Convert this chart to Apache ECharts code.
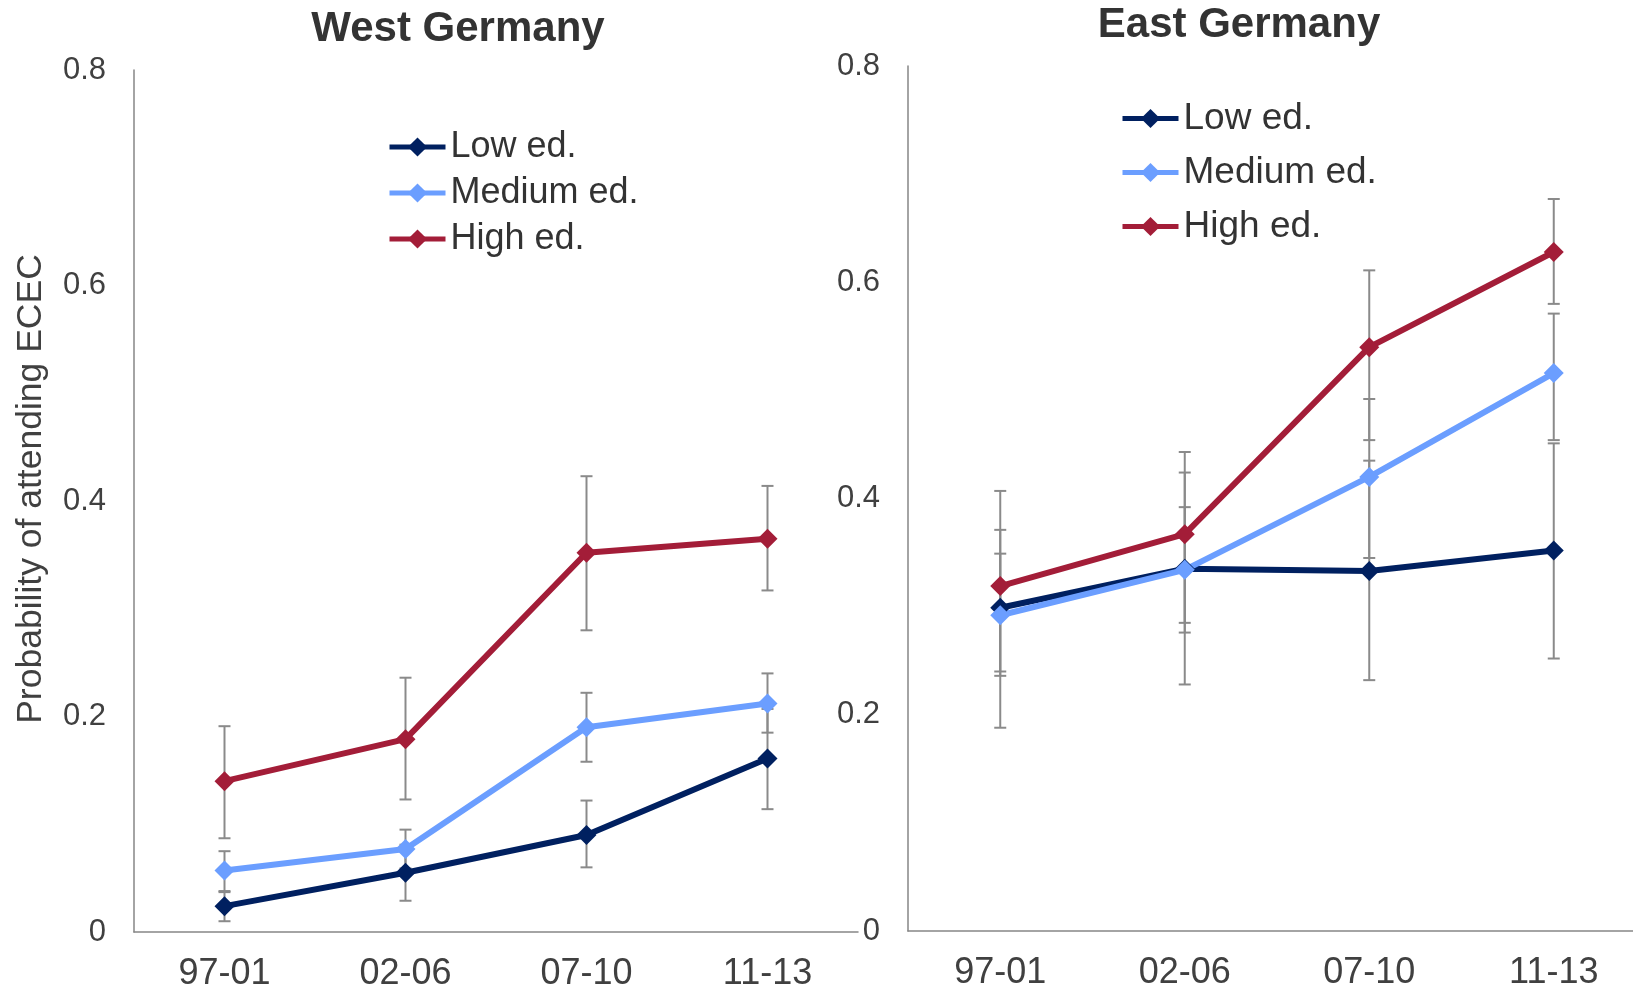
<!DOCTYPE html>
<html>
<head>
<meta charset="utf-8">
<title>Probability of attending ECEC by parental education</title>
<script src="https://cdn.jsdelivr.net/npm/echarts@6/dist/echarts.min.js"></script>
<style>
  html, body { margin: 0; padding: 0; background: #ffffff; }
  #chart { width: 1633px; height: 991px; }
</style>
</head>
<body>
<div id="chart"></div>
<script>
// Survey periods on the x axis
const periods = ['97-01', '02-06', '07-10', '11-13'];
const yTickLabels = ['0', '0.2', '0.4', '0.6', '0.8'];
const seriesNames = ['Low ed.', 'Medium ed.', 'High ed.'];
const seriesColors = ['#002060', '#6b9eff', '#a31d38'];

// West Germany: predicted probabilities
const westLow = [0.024, 0.055, 0.090, 0.161];
const westMedium = [0.057, 0.077, 0.190, 0.212];
const westHigh = [0.140, 0.179, 0.352, 0.365];
// West Germany: confidence intervals [lower, upper]
const westLowCI = [[0.010, 0.037], [0.029, 0.081], [0.060, 0.122], [0.114, 0.207]];
const westMediumCI = [[0.038, 0.075], [0.059, 0.095], [0.158, 0.222], [0.185, 0.240]];
const westHighCI = [[0.087, 0.191], [0.123, 0.236], [0.280, 0.423], [0.317, 0.414]];

// East Germany: predicted probabilities
const eastLow = [0.299, 0.335, 0.333, 0.352];
const eastMedium = [0.292, 0.334, 0.420, 0.516];
const eastHigh = [0.319, 0.367, 0.540, 0.628];
// East Germany: confidence intervals [lower, upper]
const eastLowCI = [[0.188, 0.407], [0.228, 0.424], [0.232, 0.435], [0.252, 0.451]];
const eastMediumCI = [[0.236, 0.349], [0.276, 0.392], [0.345, 0.492], [0.454, 0.571]];
const eastHighCI = [[0.240, 0.371], [0.285, 0.443], [0.454, 0.611], [0.580, 0.677]];

const FONT = '"Liberation Sans", Arial, Helvetica, sans-serif';
const TEXT = '#404040';
const AXIS = '#868686';

// Vertical whisker with caps, drawn through the axis scales
function errorBar(params, api) {
  const idx = api.value(0);
  const lo = api.coord([idx, api.value(1)]);
  const hi = api.coord([idx, api.value(2)]);
  const hw = 6;
  const style = { stroke: '#8a8a8a', lineWidth: 2 };
  return {
    type: 'group',
    children: [
      { type: 'line', shape: { x1: lo[0], y1: lo[1], x2: hi[0], y2: hi[1] }, style: style },
      { type: 'line', shape: { x1: lo[0] - hw, y1: lo[1], x2: lo[0] + hw, y2: lo[1] }, style: style },
      { type: 'line', shape: { x1: hi[0] - hw, y1: hi[1], x2: hi[0] + hw, y2: hi[1] }, style: style }
    ]
  };
}

function ciData(ci) {
  return ci.map((d, i) => [i, d[0], d[1]]);
}

function lineSeries(name, values, color, axisIdx) {
  return {
    type: 'line',
    name: name,
    xAxisIndex: axisIdx,
    yAxisIndex: axisIdx,
    data: values,
    symbol: 'diamond',
    symbolSize: 20,
    lineStyle: { color: color, width: 6 },
    itemStyle: { color: color },
    z: 3,
    emphasis: { disabled: true }
  };
}

function ciSeries(name, ci, axisIdx) {
  return {
    type: 'custom',
    name: name + ' CI',
    xAxisIndex: axisIdx,
    yAxisIndex: axisIdx,
    renderItem: errorBar,
    data: ciData(ci),
    z: 1,
    silent: true
  };
}

function xAxis(gridIdx) {
  return {
    type: 'category',
    gridIndex: gridIdx,
    data: periods,
    boundaryGap: true,
    axisLine: { show: true, lineStyle: { color: AXIS, width: 1.5 } },
    axisTick: { show: false },
    axisLabel: { color: TEXT, fontSize: 36, fontFamily: FONT, margin: 24 },
    splitLine: { show: false }
  };
}

function yAxis(gridIdx) {
  return {
    type: 'value',
    gridIndex: gridIdx,
    min: 0,
    max: 0.8,
    interval: 0.2,
    axisLine: { show: true, lineStyle: { color: AXIS, width: 1.5 } },
    axisTick: { show: false },
    splitLine: { show: false },
    axisLabel: {
      color: TEXT, fontSize: 31, fontFamily: FONT, margin: 28,
      formatter: v => yTickLabels[Math.round(v / 0.2)]
    }
  };
}

function legend(left, top, fontSize, gap) {
  return {
    orient: 'vertical', left: left, top: top, padding: 0,
    itemWidth: 56, itemHeight: 24, itemGap: gap,
    data: seriesNames,
    lineStyle: { width: 5 },
    textStyle: { color: '#333333', fontSize: fontSize, fontFamily: FONT },
    selectedMode: false
  };
}

const chart = echarts.init(document.getElementById('chart'), null, { renderer: 'canvas' });

chart.setOption({
  animation: false,
  backgroundColor: '#ffffff',
  color: seriesColors,
  grid: [
    { left: 134, top: 70, width: 724, height: 862, outerBoundsMode: 'none' },
    { left: 908, top: 66, width: 738, height: 865, outerBoundsMode: 'none' }
  ],
  xAxis: [xAxis(0), xAxis(1)],
  yAxis: [yAxis(0), yAxis(1)],
  legend: [
    legend(387, 129, 36, 10),
    legend(1120, 100, 37, 17)
  ],
  graphic: [
    {
      type: 'text', x: 458, y: 29,
      style: { text: 'West Germany', font: 'bold 42px ' + FONT, fill: '#333333', align: 'center', verticalAlign: 'middle' }
    },
    {
      type: 'text', x: 1239, y: 25,
      style: { text: 'East Germany', font: 'bold 42px ' + FONT, fill: '#333333', align: 'center', verticalAlign: 'middle' }
    },
    {
      type: 'text', x: 31, y: 489, rotation: Math.PI / 2,
      style: { text: 'Probability of attending ECEC', font: '35.5px ' + FONT, fill: TEXT, align: 'center', verticalAlign: 'middle' }
    }
  ],
  series: [
    ciSeries('West low', westLowCI, 0),
    ciSeries('West medium', westMediumCI, 0),
    ciSeries('West high', westHighCI, 0),
    lineSeries(seriesNames[0], westLow, seriesColors[0], 0),
    lineSeries(seriesNames[1], westMedium, seriesColors[1], 0),
    lineSeries(seriesNames[2], westHigh, seriesColors[2], 0),
    ciSeries('East low', eastLowCI, 1),
    ciSeries('East medium', eastMediumCI, 1),
    ciSeries('East high', eastHighCI, 1),
    lineSeries(seriesNames[0], eastLow, seriesColors[0], 1),
    lineSeries(seriesNames[1], eastMedium, seriesColors[1], 1),
    lineSeries(seriesNames[2], eastHigh, seriesColors[2], 1)
  ]
});
</script>
</body>
</html>
